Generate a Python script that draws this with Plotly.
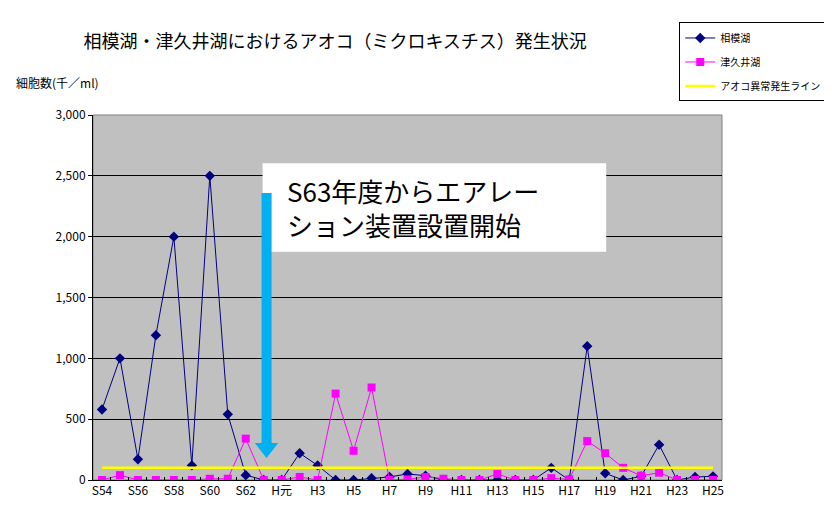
import plotly.graph_objects as go

# 年度 (S54〜H25)
years = ["S54", "S55", "S56", "S57", "S58", "S59", "S60", "S61", "S62", "S63",
         "H元", "H2", "H3", "H4", "H5", "H6", "H7", "H8", "H9", "H10",
         "H11", "H12", "H13", "H14", "H15", "H16", "H17", "H18", "H19", "H20",
         "H21", "H22", "H23", "H24", "H25"]

# 細胞数(千/ml)
sagami = [580, 1000, 170, 1190, 2000, 120, 2500, 540, 40, 0,
          0, 220, 120, 0, 0, 15, 25, 50, 35, 0,
          0, 0, 0, 0, 0, 100, 0, 1100, 55, 0,
          30, 290, 0, 25, 30]
tsukui = [0, 40, 0, 0, 0, 0, 10, 10, 340, 0,
          0, 25, 0, 710, 240, 760, 0, 5, 25, 10,
          0, 0, 50, 0, 0, 15, 5, 320, 220, 100,
          35, 60, 0, 0, 0]
alarm = [100] * len(years)

# 偶数番目だけラベル表示
tick_text = [y if i % 2 == 0 else "" for i, y in enumerate(years)]

FONT = "Noto Sans CJK JP"

fig = go.Figure()
fig.add_trace(go.Scatter(x=years, y=sagami, name="相模湖", mode="lines+markers",
                         line=dict(color="#000080", width=1),
                         marker=dict(symbol="diamond", size=8, color="#000080"),
                         legendgroup="a"))
fig.add_trace(go.Scatter(x=years, y=tsukui, name="津久井湖", mode="lines+markers",
                         line=dict(color="#FF00FF", width=1),
                         marker=dict(symbol="square", size=8, color="#FF00FF"),
                         legendgroup="b"))
fig.add_trace(go.Scatter(x=years, y=alarm, name="アオコ異常発生ライン", mode="lines",
                         line=dict(color="#FFFF00", width=2.5),
                         legendgroup="c"))

# plot area border
fig.add_shape(type="rect", xref="paper", yref="paper", x0=0, x1=1, y0=0, y1=1,
              line=dict(color="#808080", width=1), layer="below")

# white text box and blue arrow
fig.add_shape(type="rect", xref="paper", yref="paper",
              x0=0.2696, x1=0.8159, y0=0.6255, y1=0.8677,
              fillcolor="white", line=dict(width=0), layer="above")
fig.add_shape(type="path", xref="paper", yref="paper",
              path="M 0.268 0.7863 L 0.2839 0.7863 L 0.2839 0.1014 L 0.2944 0.1014 "
                   "L 0.2759 0.0603 L 0.2573 0.1014 L 0.268 0.1014 Z",
              fillcolor="#00B0F0", line=dict(width=0), layer="above")

fig.add_annotation(xref="paper", yref="paper", x=0.305, y=0.7466,
                   text="S63年度からエアレー<br>ション装置設置開始",
                   showarrow=False, xanchor="left", yanchor="middle", align="left",
                   font=dict(family=FONT, size=26, color="black"))

fig.add_annotation(xref="paper", yref="paper", x=-0.126, y=1.0877,
                   text="細胞数(千／ml)", showarrow=False,
                   xanchor="left", yanchor="middle",
                   font=dict(family=FONT, size=12, color="black"))

# the page has an 8px body margin, so the figure is sized to fit inside it
fig.update_layout(
    width=824, height=499,
    margin=dict(l=85, r=110, t=107, b=27, autoexpand=False),
    paper_bgcolor="white",
    plot_bgcolor="#C0C0C0",
    font=dict(family=FONT, size=12, color="black"),
    title=dict(text="相模湖・津久井湖におけるアオコ（ミクロキスチス）発生状況",
               x=0.397, xanchor="center", xref="container",
               y=0.932, yanchor="middle", yref="container",
               font=dict(family=FONT, size=18, color="black")),
    showlegend=True,
    legend=dict(x=0.993, y=0.971, xanchor="right", yanchor="top",
                xref="container", yref="container",
                bgcolor="white", bordercolor="black", borderwidth=1,
                font=dict(family=FONT, size=10, color="black"),
                traceorder="grouped", tracegroupgap=5),
    xaxis=dict(type="category", tickmode="array", tickvals=years, ticktext=tick_text,
               tickson="boundaries", ticks="inside", ticklen=3, tickcolor="black",
               tickangle=0,
               range=[-0.5, len(years) - 0.5], showgrid=False,
               showline=True, linecolor="black", linewidth=1,
               tickfont=dict(size=12)),
    yaxis=dict(range=[0, 3000], dtick=500, tickformat=",d",
               showgrid=True, gridcolor="black", gridwidth=1,
               showline=True, linecolor="black", linewidth=1,
               ticks="outside", ticklen=4, tickcolor="black",
               zeroline=False, tickfont=dict(size=12)),
)

fig.write_html("out.html")
